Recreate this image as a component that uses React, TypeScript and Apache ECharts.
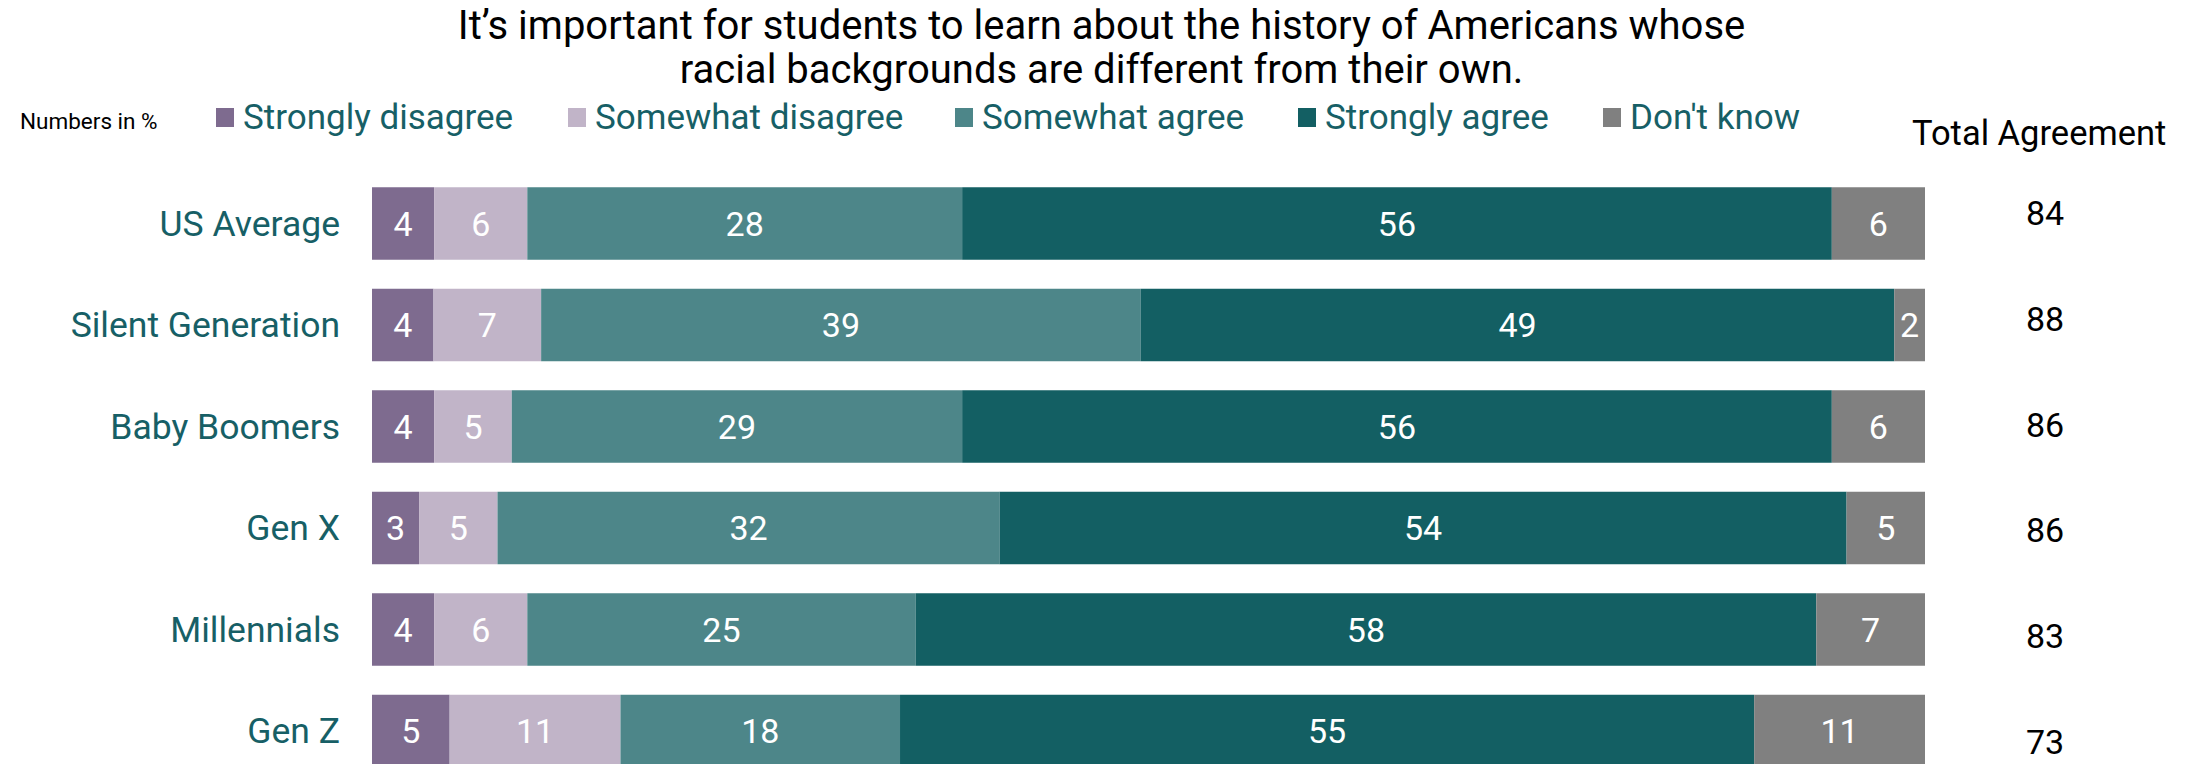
import React, { useEffect, useRef } from "react";
import * as echarts from "echarts";

const categories = ["US Average", "Silent Generation", "Baby Boomers", "Gen X", "Millennials", "Gen Z"];
const seriesNames = ["Strongly disagree", "Somewhat disagree", "Somewhat agree", "Strongly agree", "Don't know"];
const stronglyDisagree = [4, 4, 4, 3, 4, 5];
const somewhatDisagree = [6, 7, 5, 5, 6, 11];
const somewhatAgree = [28, 39, 29, 32, 25, 18];
const stronglyAgree = [56, 49, 56, 54, 58, 55];
const dontKnow = [6, 2, 6, 5, 7, 11];
const totalAgreement = [84, 88, 86, 86, 83, 73];

const colors = ["#7e6b8f", "#c1b4c8", "#4d8689", "#135f63", "#808080"];
const legendLeft = [216, 568, 955, 1298, 1603];
const FONT = "Roboto, 'Noto Sans', sans-serif";
const TEAL = "#175f66";

export default function App() {
  const ref = useRef<HTMLDivElement>(null);
  useEffect(() => {
    document.body.style.margin = "0";
    document.body.style.overflow = "hidden";
    document.documentElement.style.overflow = "hidden";
    const chart = echarts.init(ref.current!, null, { renderer: "svg" });
    const raw = [stronglyDisagree, somewhatDisagree, somewhatAgree, stronglyAgree, dontKnow];
    const rowSums = categories.map((_, i) => raw.reduce((s, arr) => s + arr[i], 0));
    const series: any[] = raw.map((arr, si) => ({
      name: seriesNames[si],
      type: "bar",
      stack: "total",
      xAxisIndex: 0,
      yAxisIndex: 0,
      barWidth: 72.5,
      itemStyle: { color: colors[si] },
      label: {
        show: true,
        position: "inside",
        color: "#ffffff",
        fontSize: 34,
        fontFamily: FONT,
        formatter: (p: any) => String(arr[p.dataIndex]),
      },
      data: arr.map((v, i) => (v / rowSums[i]) * 100),
    }));
    const legends = seriesNames.map((n, i) => ({
      data: [n],
      left: legendLeft[i],
      top: 100,
      icon: "rect",
      itemWidth: 18,
      itemHeight: 19,
      itemGap: 0,
      padding: 0,
      selectedMode: false,
      textStyle: { color: TEAL, fontSize: 35, fontFamily: FONT, padding: [0, 0, 0, 4] },
    }));
    chart.setOption({
      animation: false,
      color: colors,
      legend: legends,
      graphic: [
        {
          type: "text",
          x: 1101.5,
          y: 3,
          style: {
            text: "It\u2019s important for students to learn about the history of Americans whose\nracial backgrounds are different from their own.",
            fill: "#000",
            fontSize: 40,
            fontFamily: FONT,
            lineHeight: 44,
            textAlign: "center",
          },
        },
        {
          type: "text",
          left: 20,
          top: 109,
          style: { text: "Numbers in %", fill: "#000", fontSize: 22.5, fontFamily: FONT },
        },
        {
          type: "text",
          left: 1912,
          top: 115,
          style: { text: "Total Agreement", fill: "#000", fontSize: 34.5, fontFamily: FONT },
        },
      ],
      grid: [
        { left: 372, width: 1553, top: 172.75, height: 609 },
        { left: 2045, width: 4, top: 160, height: 635 },
      ],
      xAxis: [
        { type: "value", min: 0, max: 100, show: false, gridIndex: 0 },
        { type: "value", min: 0, max: 1, show: false, gridIndex: 1 },
      ],
      yAxis: [
        {
          type: "category",
          gridIndex: 0,
          inverse: true,
          data: categories,
          axisLine: { show: false },
          axisTick: { show: false },
          axisLabel: { color: TEAL, fontSize: 35.5, fontFamily: FONT, margin: 32 },
        },
        {
          type: "category",
          gridIndex: 1,
          inverse: true,
          data: categories,
          axisLine: { show: false },
          axisTick: { show: false },
          axisLabel: {
            color: "#000",
            fontSize: 34,
            fontFamily: FONT,
            margin: 0,
            align: "center",
            formatter: (_v: string, idx: number) => String(totalAgreement[idx]),
          },
        },
      ],
      series,
    });
    return () => chart.dispose();
  }, []);
  return <div ref={ref} style={{ width: 2203, height: 820 }} />;
}
